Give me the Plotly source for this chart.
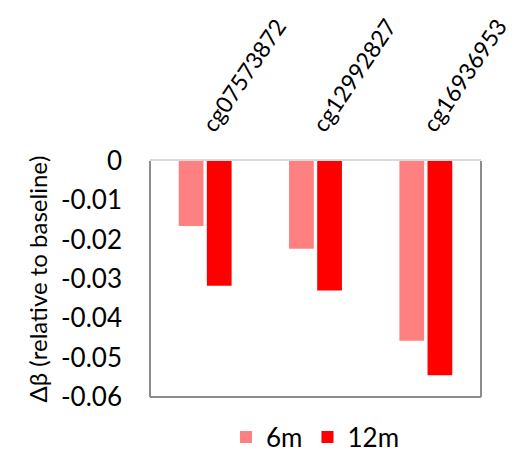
import plotly.graph_objects as go

categories = ["cg07573872", "cg12992827", "cg16936953"]
values_6m = [-0.0165, -0.0223, -0.0457]
values_12m = [-0.0317, -0.0329, -0.0545]
series_names = ["6m", "12m"]
y_ticks = [0, -0.01, -0.02, -0.03, -0.04, -0.05, -0.06]
y_tick_labels = ["0", "-0.01", "-0.02", "-0.03", "-0.04", "-0.05", "-0.06"]

FONT = "Lato, Carlito, Calibri, sans-serif"

fig = go.Figure()
fig.add_trace(go.Bar(x=categories, y=values_6m, name=series_names[0],
                     marker=dict(color="#FF8080", line=dict(width=0))))
fig.add_trace(go.Bar(x=categories, y=values_12m, name=series_names[1],
                     marker=dict(color="#FF0000", line=dict(width=0))))

# the page body adds an 8px offset, so the figure is 8px smaller than the window
fig.update_layout(
    width=510, height=446,
    margin=dict(l=142, r=37, t=153, b=57),
    paper_bgcolor="white", plot_bgcolor="white",
    font=dict(family=FONT, size=24, color="black"),
    barmode="group", bargap=0.49, bargroupgap=0.12,
    showlegend=True,
    legend=dict(orientation="h", xref="paper", x=0.50, xanchor="center",
                yref="container", y=0.038, yanchor="middle",
                bgcolor="rgba(0,0,0,0)",
                font=dict(size=26), itemwidth=30, traceorder="normal"),
)
fig.update_xaxes(side="top", tickangle=-56, showgrid=False, zeroline=False,
                 showline=True, linecolor="#D9D9D9", linewidth=2, automargin=False,
                 ticks="", ticklabelstandoff=11, tickfont=dict(size=23))
fig.update_yaxes(range=[-0.06, 0], tickvals=y_ticks, ticktext=y_tick_labels,
                 showgrid=False, zeroline=False, showline=False, automargin=False,
                 ticks="", ticklabelstandoff=27, tickfont=dict(size=26),
                 title=dict(text="Δβ (relative to baseline)", font=dict(size=24), standoff=6))

# plot-area border (left, right, bottom)
for x0, y0, x1, y1 in [(0, 0, 0, 1), (1, 0, 1, 1), (0, 0, 1, 0)]:
    fig.add_shape(type="line", xref="paper", yref="paper", x0=x0, y0=y0, x1=x1, y1=y1,
                  line=dict(color="#8C8C8C", width=2))

fig.write_html("out.html")
